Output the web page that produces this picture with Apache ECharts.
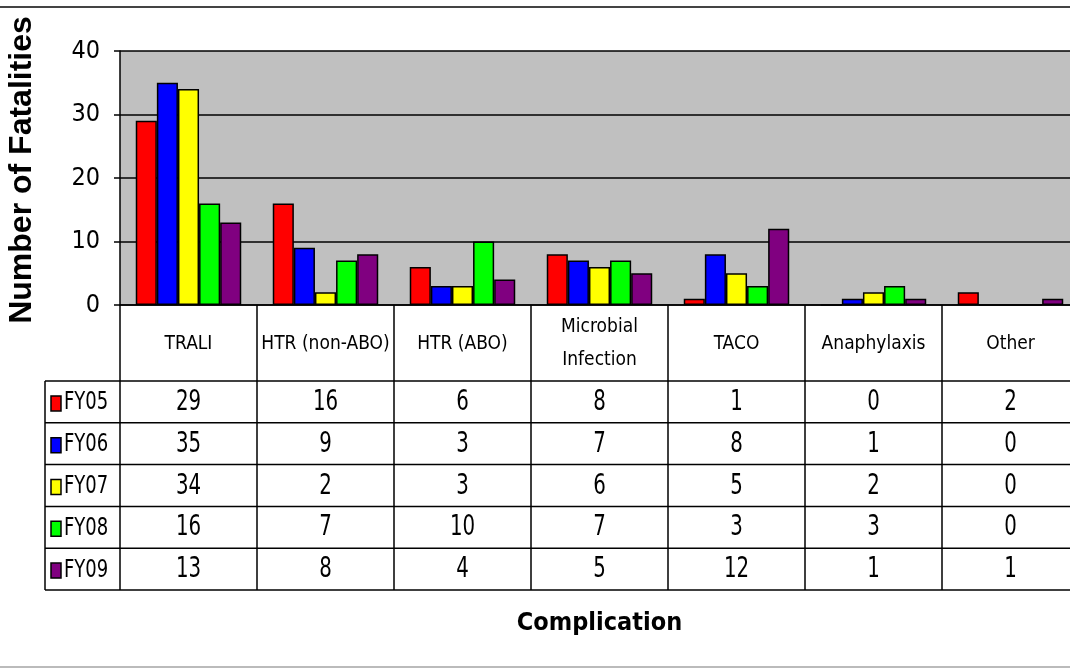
<!DOCTYPE html>
<html><head><meta charset="utf-8">
<script src="https://cdn.jsdelivr.net/npm/echarts@6/dist/echarts.min.js"></script>
<style>html,body{margin:0;padding:0;background:#fff}#c{width:1070px;height:670px}</style>
</head><body><div id="c"></div>
<script>
// ---- data ----
const categories = ['TRALI', 'HTR (non-ABO)', 'HTR (ABO)', 'Microbial\nInfection', 'TACO', 'Anaphylaxis', 'Other'];
const seriesNames = ['FY05', 'FY06', 'FY07', 'FY08', 'FY09'];
const fy05 = [29, 16, 6, 8, 1, 0, 2];
const fy06 = [35, 9, 3, 7, 8, 1, 0];
const fy07 = [34, 2, 3, 6, 5, 2, 0];
const fy08 = [16, 7, 10, 7, 3, 3, 0];
const fy09 = [13, 8, 4, 5, 12, 1, 1];
const yTicks = [0, 10, 20, 30, 40];
const seriesColors = ['#ff0000', '#0000ff', '#ffff00', '#00ff00', '#800080'];
const seriesValues = [fy05, fy06, fy07, fy08, fy09];

// ---- styling / layout ----
const NARROW = "'Liberation Sans Narrow','Arial Narrow','DejaVu Sans Condensed',sans-serif";
const SANS = "'Liberation Sans',Arial,sans-serif";
const GRID = { left: 120, top: 51, width: 959, height: 254 };
const TABLE_TOP = 381, ROW_H = 41.8, TABLE_LEFT = 45;
const STRETCH = 1.25;

const chart = echarts.init(document.getElementById('c'), null, { renderer: 'canvas' });

const option = {
  animation: false,
  backgroundColor: '#fff',
  grid: Object.assign({ show: true, backgroundColor: '#c0c0c0', borderWidth: 0, containLabel: false, outerBoundsMode: 'none' }, GRID),
  xAxis: {
    type: 'category', data: categories,
    axisLine: { lineStyle: { color: '#000', width: 1.5 } },
    axisTick: { show: true, interval: 0, length: 285, lineStyle: { color: '#000', width: 1.5 } },
    axisLabel: { interval: 0, margin: 39, verticalAlign: 'middle', fontFamily: NARROW, fontSize: 19, lineHeight: 33, color: '#000' },
    name: 'Complication', nameLocation: 'middle', nameGap: 318,
    nameTextStyle: { fontFamily: NARROW, fontWeight: 'bold', fontSize: 25, color: '#000', verticalAlign: 'middle' }
  },
  yAxis: {
    type: 'value', min: yTicks[0], max: yTicks[yTicks.length - 1], interval: yTicks[1] - yTicks[0],
    axisLine: { show: true, lineStyle: { color: '#000', width: 1.5 } },
    axisTick: { show: true, length: 6, lineStyle: { color: '#000', width: 1.5 } },
    axisLabel: { margin: 20, fontFamily: NARROW, fontSize: 25, color: '#000' },
    splitLine: { lineStyle: { color: '#000', width: 1.5 } },
    name: 'Number of Fatalities', nameLocation: 'middle', nameGap: 98, nameRotate: 90,
    nameTextStyle: { fontFamily: SANS, fontWeight: 'bold', fontSize: 32, color: '#000', verticalAlign: 'middle', padding: [0, 0, 0, 16] }
  },
  series: seriesNames.map((n, i) => ({
    name: n, type: 'bar', data: seriesValues[i],
    barGap: '0%', barCategoryGap: '23%',
    itemStyle: { color: seriesColors[i], borderColor: '#000', borderWidth: 1.5 }
  }))
};
chart.setOption(option);

// ---- data table drawn from the axis scale ----
const W = 1070;
const g = [];
g.push({ type: 'line', shape: { x1: 0, y1: 7, x2: W, y2: 7 }, style: { stroke: '#444', lineWidth: 2 } });
g.push({ type: 'line', shape: { x1: 0, y1: 667, x2: W, y2: 667 }, style: { stroke: '#bbb', lineWidth: 2 } });
for (let r = 0; r <= seriesNames.length; r++) {
  const y = TABLE_TOP + r * ROW_H;
  g.push({ type: 'line', shape: { x1: TABLE_LEFT, y1: y, x2: W, y2: y }, style: { stroke: '#000', lineWidth: 1.5 } });
}
g.push({ type: 'line', shape: { x1: TABLE_LEFT, y1: TABLE_TOP, x2: TABLE_LEFT, y2: TABLE_TOP + seriesNames.length * ROW_H }, style: { stroke: '#000', lineWidth: 1.5 } });
seriesNames.forEach((n, r) => {
  const cy = TABLE_TOP + (r + 0.5) * ROW_H + 1;
  g.push({ type: 'rect', shape: { x: 51, y: cy - 7, width: 10, height: 15 }, style: { fill: seriesColors[r], stroke: '#000', lineWidth: 1.5 } });
  g.push({ type: 'text', x: 64, y: cy, scaleY: STRETCH, style: { text: n, fontFamily: NARROW, fontSize: 20, fill: '#000', align: 'left', verticalAlign: 'middle' } });
  seriesValues[r].forEach((v, c) => {
    const px = chart.convertToPixel({ xAxisIndex: 0 }, c);
    g.push({ type: 'text', x: px, y: cy, scaleY: STRETCH, style: { text: String(v), fontFamily: NARROW, fontSize: 22, fill: '#000', align: 'center', verticalAlign: 'middle' } });
  });
});
chart.setOption({ graphic: g });
</script>
</body></html>
